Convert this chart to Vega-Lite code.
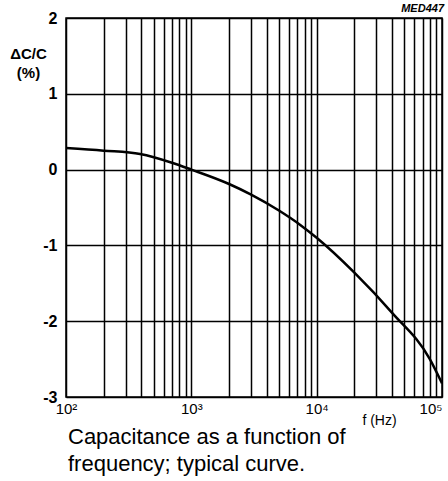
{
  "$schema": "https://vega.github.io/schema/vega-lite/v6.json",
  "width": 376,
  "height": 379,
  "autosize": {"type": "none"},
  "padding": {"left": 66, "top": 18, "right": 6, "bottom": 84},
  "background": "white",
  "config": {
    "view": {"stroke": "black", "strokeWidth": 1.5},
    "font": "Liberation Sans"
  },
  "title": {
    "text": ["Capacitance as a function of", "frequency; typical curve."],
    "orient": "bottom",
    "anchor": "start",
    "frame": "group",
    "font": "Liberation Sans",
    "fontSize": 22,
    "fontWeight": "normal",
    "color": "black",
    "lineHeight": 27,
    "offset": 0,
    "dx": 2
  },
  "datasets": {
    "curve": [
      {"f": 100, "dc": 0.285},
      {"f": 200, "dc": 0.25},
      {"f": 390, "dc": 0.205},
      {"f": 700, "dc": 0.09},
      {"f": 1000, "dc": 0.0},
      {"f": 2000, "dc": -0.19},
      {"f": 3000, "dc": -0.33},
      {"f": 5000, "dc": -0.54},
      {"f": 7400, "dc": -0.73},
      {"f": 10000, "dc": -0.9},
      {"f": 20000, "dc": -1.36},
      {"f": 40000, "dc": -1.89},
      {"f": 80000, "dc": -2.5},
      {"f": 100000, "dc": -2.82}
    ],
    "code": [{"label": "MED447", "f": 100000, "dc": 2}]
  },
  "layer": [
    {
      "data": {"name": "curve"},
      "mark": {"type": "line", "color": "black", "strokeWidth": 2.5, "interpolate": "monotone", "clip": true},
      "encoding": {
        "x": {
          "field": "f",
          "type": "quantitative",
          "scale": {"type": "log", "domain": [100, 100000], "nice": false},
          "axis": {
            "values": [100,200,300,400,500,600,700,800,900,1000,2000,3000,4000,5000,6000,7000,8000,9000,10000,20000,30000,40000,50000,60000,70000,80000,90000,100000],
            "labelExpr": "datum.value == 100 ? '10²' : datum.value == 1000 ? '10³' : datum.value == 10000 ? '10⁴' : datum.value == 100000 ? '10⁵' : ''",
            "labelAlign": {"condition": {"test": "datum.value == 100000", "value": "right"}, "value": "center"},
            "grid": true,
            "gridColor": "black",
            "gridWidth": 1.5,
            "gridOpacity": 1,
            "ticks": false,
            "domain": false,
            "labelFont": "Liberation Sans",
            "labelFontSize": 15,
            "labelColor": "black",
            "labelPadding": 4,
            "labelFlush": false,
            "labelOverlap": false,
            "title": "f (Hz)",
            "titleFont": "Liberation Sans",
            "titleFontSize": 14,
            "titleFontWeight": "normal",
            "titleColor": "black",
            "titleX": 313,
            "titleY": 27,
            "titleAlign": "center",
            "titleBaseline": "alphabetic"
          }
        },
        "y": {
          "field": "dc",
          "type": "quantitative",
          "scale": {"domain": [-3, 2], "nice": false, "zero": false},
          "axis": {
            "values": [-3,-2.5,-2,-1.5,-1,-0.5,0,0.5,1,1.5,2],
            "labelExpr": "datum.value % 1 === 0 ? toString(datum.value) : ''",
            "grid": true,
            "gridColor": "black",
            "gridWidth": 1.5,
            "gridOpacity": 1,
            "ticks": false,
            "domain": false,
            "labelFont": "Liberation Sans",
            "labelFontSize": 16,
            "labelFontWeight": "bold",
            "labelColor": "black",
            "labelPadding": 9,
            "labelFlush": false,
            "labelOverlap": false,
            "title": ["ΔC/C", "(%)"],
            "titleFont": "Liberation Sans",
            "titleFontSize": 15,
            "titleFontWeight": "bold",
            "titleColor": "black",
            "titleAngle": 0,
            "titleX": -38,
            "titleY": 40,
            "titleAlign": "center",
            "titleBaseline": "alphabetic",
            "titleLineHeight": 19
          }
        }
      }
    },
    {
      "data": {"name": "code"},
      "mark": {"type": "text", "align": "right", "baseline": "bottom", "dy": -4, "dx": 2, "font": "Liberation Sans", "fontSize": 11, "fontWeight": "bold", "fontStyle": "italic", "color": "black"},
      "encoding": {
        "x": {"field": "f", "type": "quantitative"},
        "y": {"field": "dc", "type": "quantitative"},
        "text": {"field": "label"}
      }
    }
  ]
}
